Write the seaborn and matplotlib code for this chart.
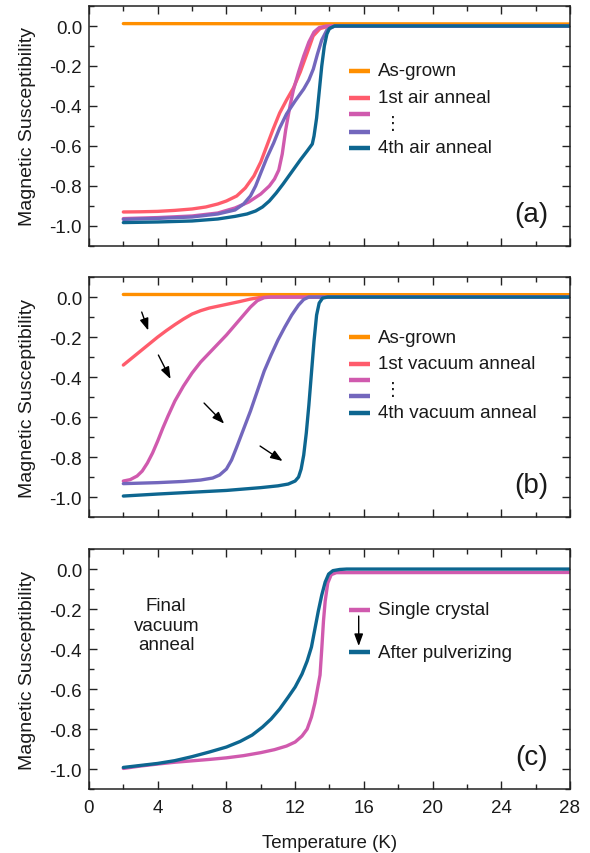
import numpy as np
import pandas as pd
import matplotlib
matplotlib.use("Agg")
import matplotlib.pyplot as plt
from matplotlib.ticker import MultipleLocator, FormatStrFormatter
import seaborn as sns

# colours of the anneal series
c_grown = "#ff8f00"
c_first = "#ff5c6c"
c_mid1 = "#d05aae"
c_mid2 = "#7367bd"
c_last = "#0d6690"

# (a) air anneals
T_a_grown = [2, 14, 28]
chi_a_grown = [0.012, 0.011, 0.010]
T_a1 = [2, 3, 4, 5, 6, 6.8, 7.5, 8.0, 8.6, 9.1, 9.6, 10.0, 10.35, 10.7, 11.1, 11.5, 11.9, 12.3, 12.7, 13.05, 13.45, 14.0, 28]
chi_a1 = [-0.93, -0.929, -0.927, -0.922, -0.915, -0.905, -0.89, -0.875, -0.85, -0.81, -0.75, -0.68, -0.60, -0.52, -0.435, -0.37, -0.31, -0.23, -0.135, -0.05, -0.013, 0.0, 0.0]
T_a2 = [2, 4, 6, 7.5, 8.5, 9.3, 10.0, 10.5, 10.8, 11.05, 11.25, 11.45, 11.7, 11.9, 12.2, 12.5, 12.8, 13.1, 13.4, 13.8, 28]
chi_a2 = [-0.963, -0.958, -0.95, -0.935, -0.91, -0.88, -0.84, -0.80, -0.765, -0.72, -0.64, -0.52, -0.40, -0.32, -0.23, -0.15, -0.08, -0.03, -0.008, 0.0, 0.0]
T_a3 = [2, 4, 6, 7.5, 8.5, 9.0, 9.4, 9.7, 10.0, 10.35, 10.75, 11.1, 11.5, 12.0, 12.5, 12.8, 13.06, 13.3, 13.55, 13.85, 14.3, 28]
chi_a3 = [-0.967, -0.962, -0.955, -0.94, -0.92, -0.89, -0.85, -0.80, -0.735, -0.66, -0.585, -0.51, -0.44, -0.375, -0.315, -0.27, -0.215, -0.14, -0.07, -0.02, 0.0, 0.0]
T_a4 = [2, 4, 6, 7.5, 8.5, 9.2, 9.7, 10.1, 10.5, 10.9, 11.3, 11.8, 12.3, 12.7, 13.0, 13.1, 13.25, 13.4, 13.55, 13.7, 13.85, 14.0, 14.3, 28]
chi_a4 = [-0.983, -0.98, -0.975, -0.965, -0.952, -0.94, -0.925, -0.905, -0.875, -0.835, -0.79, -0.73, -0.67, -0.625, -0.59, -0.55, -0.46, -0.33, -0.2, -0.1, -0.04, -0.012, 0.0, 0.0]

# (b) vacuum anneals
T_b_grown = [2, 14, 28]
chi_b_grown = [0.013, 0.012, 0.012]
T_b1 = [2, 2.5, 3.0, 3.5, 4.0, 4.5, 5.0, 5.5, 6.0, 6.5, 7.0, 7.6, 8.2, 8.8, 9.4, 9.9, 10.3, 28]
chi_b1 = [-0.34, -0.305, -0.27, -0.235, -0.2, -0.168, -0.138, -0.11, -0.085, -0.068, -0.055, -0.044, -0.033, -0.022, -0.01, -0.003, 0.0, 0.0]
T_b2 = [2, 2.4, 2.8, 3.1, 3.4, 3.7, 4.0, 4.3, 4.6, 5.0, 5.5, 6.0, 6.5, 7.0, 7.5, 8.0, 8.5, 9.0, 9.4, 9.8, 10.2, 10.6, 28]
chi_b2 = [-0.92, -0.913, -0.895, -0.87, -0.83, -0.78, -0.72, -0.655, -0.595, -0.52, -0.445, -0.38, -0.325, -0.28, -0.235, -0.19, -0.14, -0.09, -0.05, -0.018, -0.003, 0.0, 0.0]
T_b3 = [2, 4, 5.5, 6.5, 7.2, 7.6, 8.0, 8.3, 8.6, 9.0, 9.4, 9.8, 10.2, 10.6, 11.0, 11.4, 11.8, 12.2, 12.5, 12.8, 28]
chi_b3 = [-0.933, -0.928, -0.922, -0.915, -0.905, -0.89, -0.86, -0.815, -0.75, -0.66, -0.57, -0.47, -0.37, -0.29, -0.215, -0.15, -0.09, -0.04, -0.012, 0.0, 0.0]
T_b4 = [2, 4, 6, 8, 10, 11, 11.6, 12.0, 12.2, 12.35, 12.5, 12.65, 12.8, 12.95, 13.1, 13.25, 13.4, 13.6, 13.9, 28]
chi_b4 = [-0.995, -0.985, -0.976, -0.967, -0.953, -0.944, -0.935, -0.92, -0.9, -0.86, -0.79, -0.68, -0.54, -0.38, -0.22, -0.09, -0.03, -0.005, 0.0, 0.0]

# (c) final vacuum anneal
T_c_crystal = [2, 3, 4, 5, 6, 7, 8, 9, 10, 10.8, 11.5, 12.0, 12.4, 12.7, 12.95, 13.15, 13.3, 13.45, 13.55, 13.65, 13.75, 13.9, 14.1, 14.4, 28]
chi_c_crystal = [-0.997, -0.985, -0.975, -0.966, -0.959, -0.952, -0.944, -0.933, -0.918, -0.903, -0.885, -0.865, -0.835, -0.80, -0.74, -0.67, -0.60, -0.53, -0.40, -0.26, -0.16, -0.07, -0.028, -0.018, -0.017]
T_c_powder = [2, 3, 4, 5, 6, 7, 8, 8.8, 9.5, 10.1, 10.6, 11.1, 11.6, 12.0, 12.4, 12.7, 12.95, 13.15, 13.35, 13.55, 13.75, 13.95, 14.2, 14.6, 15, 28]
chi_c_powder = [-0.992, -0.982, -0.972, -0.958, -0.938, -0.915, -0.89, -0.862, -0.83, -0.79, -0.75, -0.70, -0.64, -0.59, -0.525, -0.46, -0.39, -0.30, -0.21, -0.13, -0.065, -0.025, -0.008, -0.002, 0.0, 0.0]

labels_a = ["As-grown", "1st air anneal", "", "", "4th air anneal"]
labels_b = ["As-grown", "1st vacuum anneal", "", "", "4th vacuum anneal"]
labels_c = ["Single crystal", "After pulverizing"]


def long_table(curves):
    rows = []
    for name, (T, chi) in curves.items():
        rows.append(pd.DataFrame({"T": T, "chi": chi, "curve": name}))
    return pd.concat(rows, ignore_index=True)


sns.set_theme(style="ticks")
plt.rcParams["font.family"] = ["Liberation Sans", "DejaVu Sans"]
plt.rcParams["axes.unicode_minus"] = False
plt.rcParams["axes.linewidth"] = 1.1
plt.rcParams["axes.edgecolor"] = "#222222"

fig = plt.figure(figsize=(5.9, 8.54), dpi=100)
ax_a = fig.add_axes([0.1508, 0.7108, 0.8153, 0.281])
ax_b = fig.add_axes([0.1508, 0.3934, 0.8153, 0.281])
ax_c = fig.add_axes([0.1508, 0.0749, 0.8153, 0.281])

five = [c_grown, c_first, c_mid1, c_mid2, c_last]

df_a = long_table({"g": (T_a_grown, chi_a_grown), "1": (T_a1, chi_a1), "2": (T_a2, chi_a2),
                   "3": (T_a3, chi_a3), "4": (T_a4, chi_a4)})
df_b = long_table({"g": (T_b_grown, chi_b_grown), "1": (T_b1, chi_b1), "2": (T_b2, chi_b2),
                   "3": (T_b3, chi_b3), "4": (T_b4, chi_b4)})
df_c = long_table({"s": (T_c_crystal, chi_c_crystal), "p": (T_c_powder, chi_c_powder)})

sns.lineplot(data=df_a, x="T", y="chi", hue="curve", palette=five, sort=False,
             legend=False, lw=2.4, ax=ax_a)
sns.lineplot(data=df_b, x="T", y="chi", hue="curve", palette=five, sort=False,
             legend=False, lw=2.4, ax=ax_b)
sns.lineplot(data=df_c, x="T", y="chi", hue="curve", palette=[c_mid1, c_last], sort=False,
             legend=False, lw=2.4, ax=ax_c)


def key(ax, ys, colors, labels, dots_y=None):
    # hand-made legend in data coordinates
    for y, col, lab in zip(ys, colors, labels):
        ax.plot([15.15, 16.35], [y, y], color=col, lw=3.2, solid_capstyle="butt")
        if lab:
            ax.text(16.8, y, lab, fontsize=13.5, va="center", ha="left", color="#1a1a1a")
    if dots_y is not None:
        ax.text(17.7, dots_y, "\u22ee", fontsize=13, va="center", ha="center",
                family=["DejaVu Sans"], color="#1a1a1a")


key(ax_a, [-0.225, -0.358, -0.44, -0.53, -0.608], five, labels_a, dots_y=-0.485)
key(ax_b, [-0.20, -0.333, -0.417, -0.497, -0.578], five, labels_b, dots_y=-0.458)
key(ax_c, [-0.203, -0.417], [c_mid1, c_last], labels_c)

# arrows
arrow = dict(arrowstyle="-|>,head_length=0.6,head_width=0.22", color="black", lw=1.0,
             mutation_scale=12, shrinkA=0, shrinkB=0)
for (x0, y0), (x1, y1) in [((3.07, -0.075), (3.45, -0.167)),
                           ((4.04, -0.29), (4.75, -0.41)),
                           ((6.7, -0.53), (7.87, -0.633)),
                           ((9.96, -0.745), (11.27, -0.82))]:
    ax_b.annotate("", xy=(x1, y1), xytext=(x0, y0), arrowprops=arrow)
ax_c.annotate("", xy=(15.7, -0.385), xytext=(15.7, -0.235), arrowprops=arrow)

ax_c.text(4.5, -0.28, "Final\nvacuum\nanneal", fontsize=13.5, ha="center", va="center",
          linespacing=1.2, color="#1a1a1a")

for ax, tag in [(ax_a, "(a)"), (ax_b, "(b)"), (ax_c, "(c)")]:
    ax.set_xlim(0, 28)
    ax.set_ylim(-1.1, 0.1)
    ax.xaxis.set_major_locator(MultipleLocator(4))
    ax.xaxis.set_minor_locator(MultipleLocator(2))
    ax.yaxis.set_major_locator(MultipleLocator(0.2))
    ax.yaxis.set_minor_locator(MultipleLocator(0.1))
    ax.yaxis.set_major_formatter(FormatStrFormatter("%.1f"))
    ax.tick_params(which="both", direction="in", top=True, right=True,
                   color="#222222", width=1.0, labelsize=13.5, labelcolor="#1a1a1a")
    ax.tick_params(which="major", length=5.5, pad=5)
    ax.tick_params(which="minor", length=3.5)
    ax.set_ylabel("Magnetic Susceptibility", fontsize=14, color="#1a1a1a", labelpad=10)
    ax.set_xlabel("")
    ax.text(0.92, 0.133, tag, transform=ax.transAxes, fontsize=20, ha="center",
            va="center", color="#1a1a1a")

ax_a.tick_params(labelbottom=False)
ax_b.tick_params(labelbottom=False)
ax_c.tick_params(axis="x", pad=7)
ax_c.set_xlabel("Temperature (K)", fontsize=13.5, color="#1a1a1a", labelpad=13)

fig.savefig("out.png", dpi=100)
